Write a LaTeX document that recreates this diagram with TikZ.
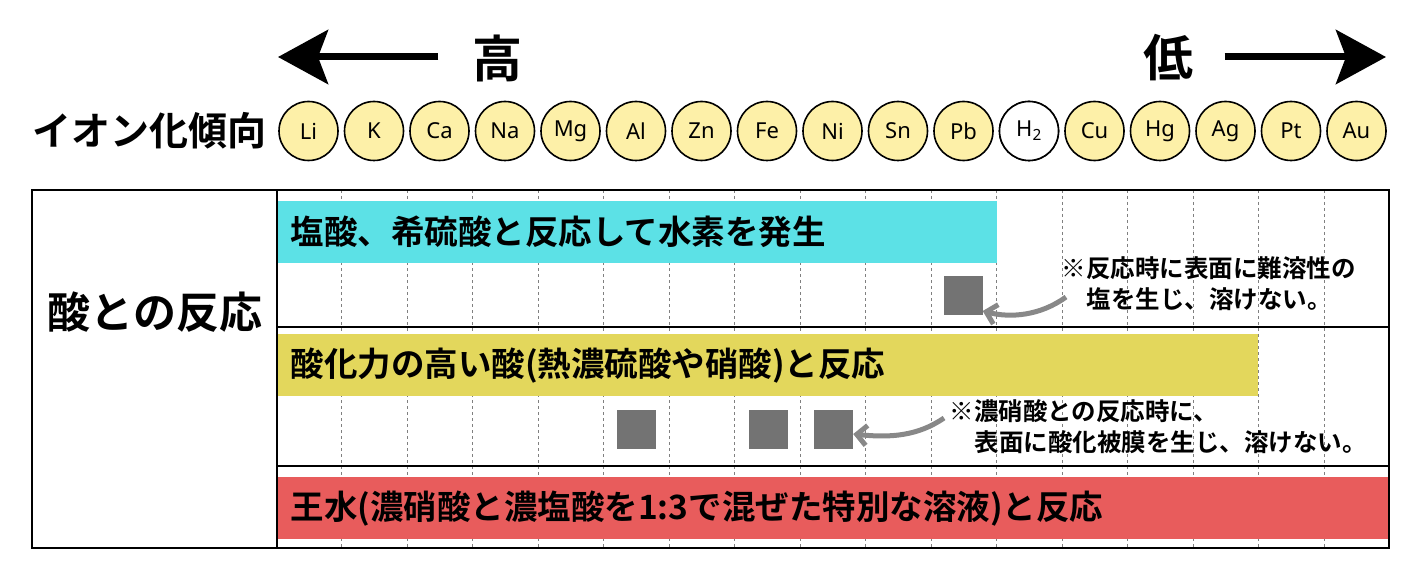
\documentclass[tikz,border=0pt]{standalone}
\usepackage{fontspec}
\setmainfont{Noto Sans}
\newfontfamily\jp{Noto Sans CJK JP Bold}
\newfontfamily\lat{Noto Sans}
\usetikzlibrary{arrows.meta}
\definecolor{circ}{HTML}{FDF0A8}
\definecolor{cy}{HTML}{5CE1E6}
\definecolor{yl}{HTML}{E3D75C}
\definecolor{rd}{HTML}{E85C5C}
\definecolor{sq}{HTML}{737373}
\begin{document}
\begin{tikzpicture}[x=1pt,y=-1pt,
 el/.style={circle,draw,line width=1.6pt,minimum size=59pt,inner sep=0,fill=circ,font=\lat\fontsize{22}{22}\selectfont},
 bar/.style={anchor=north west,inner sep=0,minimum height=62pt},
 bartxt/.style={anchor=west,font=\jp\fontsize{33.5}{33.5}\selectfont},
 sqb/.style={fill=sq,minimum size=39pt,inner sep=0},
 note/.style={font=\jp\fontsize{24.5}{31}\selectfont,align=left},
 garr/.style={draw=sq!85,line width=5pt,-{Straight Barb[length=10pt,width=20pt,line width=5pt]}}]
\useasboundingbox (0,0) rectangle (1419,580);
% header
\node[font=\jp\fontsize{50}{50}\selectfont] (hi) at (497,58) {高};
\node[font=\jp\fontsize{50}{50}\selectfont] (lo) at (1168,58) {低};
\coordinate (la) at (278,57); \coordinate (ra) at (1386,57);
\draw[line width=7pt,-{Stealth[length=50pt,width=54pt,inset=10pt]}] (hi.west)+(-30,-1) -- (la);
\draw[line width=7pt,-{Stealth[length=50pt,width=54pt,inset=10pt]}] (lo.east)+(28,-1) -- (ra);
\node[font=\jp\fontsize{39}{39}\selectfont,anchor=east] (ion) at (270,131) {イオン化傾向};
\foreach \e [count=\i from 0] in {Li,K,Ca,Na,Mg,Al,Zn,Fe,Ni,Sn,Pb,H,Cu,Hg,Ag,Pt,Au}{
  \node[el] (c\i) at (308.5+65.5*\i,131) {\e};
}
\node[el,fill=white] at (c11) {H\textsubscript{2}};
% table
\coordinate (tl) at (32,190); \coordinate (br) at (1389,548);
\foreach \k in {0,...,15} \draw[dashed,gray,line width=1pt] (341.5+65.5*\k,190) -- (341.5+65.5*\k,548);
\node[bar,fill=cy,minimum width=719pt] (b1) at (278,201) {};
\node[bar,fill=yl,minimum width=980pt] (b2) at (278,334) {};
\node[bar,fill=rd,minimum width=1111pt] (b3) at (278,477) {};
\node[bartxt] at ([xshift=9pt]b1.west) {塩酸、希硫酸と反応して水素を発生};
\node[bartxt] at ([xshift=9pt]b2.west) {酸化力の高い酸(熱濃硫酸や硝酸)と反応};
\node[bartxt] at ([xshift=9pt]b3.west) {王水(濃硝酸と濃塩酸を1:3で混ぜた特別な溶液)と反応};
\draw[line width=1.4pt] (tl) rectangle (br);
\draw[line width=1.4pt] (277,190) -- (277,548);
\draw[line width=1.2pt] (277,327) -- (1389,327);
\draw[line width=1.2pt] (277,466) -- (1389,466);
\node[font=\jp\fontsize{43}{43}\selectfont] (acid) at (155,312) {酸との反応};
% squares
\node[sqb] (s1) at (963,295) {};
\node[sqb] (s2) at (636.5,429.5) {};
\node[sqb] (s3) at (768,429.5) {};
\node[sqb] (s4) at (833.5,429.5) {};
\node[note,anchor=north west] (n1) at (1058,253) {※反応時に表面に難溶性の\\\hspace{25pt}塩を生じ、溶けない。};
\node[note,anchor=north west] (n2) at (946,396) {※濃硝酸との反応時に、\\\hspace{25pt}表面に酸化被膜を生じ、溶けない。};
\coordinate (a1) at (1066,297);
\coordinate (a2) at (944,418);
\draw[garr] (a1) .. controls (1040,316) and (1010,318) .. (s1.east|-0,311);
\draw[garr] (a2) .. controls (918,436) and (890,438) .. (s4.east|-0,434);
\end{tikzpicture}
\end{document}
